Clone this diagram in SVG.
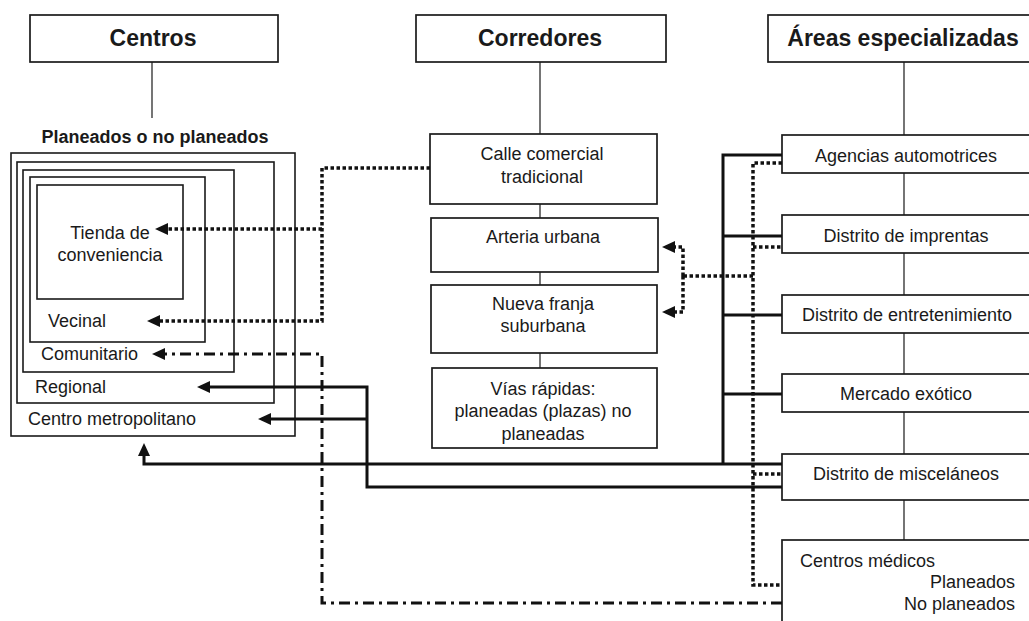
<svg xmlns="http://www.w3.org/2000/svg" width="1029" height="621" viewBox="0 0 1029 621">
  <style>
    .box { fill: #fff; stroke: #1a1a1a; stroke-width: 1.7; }
    .nest { fill: none; stroke: #1a1a1a; stroke-width: 1.6; }
    .head { font-family: "Liberation Sans", Arial, sans-serif; font-weight: bold; font-size: 23px; fill: #1a1a1a; text-anchor: middle; }
    .sub { font-family: "Liberation Sans", Arial, sans-serif; font-weight: bold; font-size: 18px; fill: #1a1a1a; text-anchor: middle; }
    .t { font-family: "Liberation Sans", Arial, sans-serif; font-size: 18px; fill: #1a1a1a; }
    .c { text-anchor: middle; }
    .r { text-anchor: end; }
    .thin { fill: none; stroke: #1a1a1a; stroke-width: 1.2; }
    .solid { fill: none; stroke: #111; stroke-width: 3; }
    .dot { fill: none; stroke: #111; stroke-width: 3.5; stroke-dasharray: 3.5 2.5; }
    .dashdot { fill: none; stroke: #111; stroke-width: 3; stroke-dasharray: 11 5 3 5; }
  </style>
  <defs>
    <marker id="arrow" markerUnits="userSpaceOnUse" markerWidth="13" markerHeight="12" refX="0" refY="6" orient="auto">
      <path d="M0,0 L13,6 L0,12 z" fill="#111"/>
    </marker>
  </defs>
  <rect width="1029" height="621" fill="#fff"/>

  <!-- thin hierarchy connectors -->
  <g id="tree-lines">
    <path class="thin" d="M152 62 V118"/>
    <path class="thin" d="M540 62 V134 M540 204 V218 M540 272 V285 M540 353 V368"/>
    <path class="thin" d="M904 62 V135 M904 173 V215 M904 253 V295 M904 333 V374 M904 412 V454 M904 500 V540"/>
  </g>

  <!-- column headers -->
  <g id="centros">
    <rect class="box" x="30" y="15" width="248" height="47"/>
    <text class="head" x="153" y="46">Centros</text>
  </g>
  <g id="corredores">
    <rect class="box" x="416" y="15" width="250" height="47"/>
    <text class="head" x="540" y="46">Corredores</text>
  </g>
  <g id="areas">
    <rect class="box" x="768" y="15" width="280" height="47"/>
    <text class="head" x="903" y="46">Áreas especializadas</text>
  </g>

  <!-- nested centres -->
  <g id="centros-anidados">
    <text class="sub" x="155" y="143">Planeados o no planeados</text>
    <rect class="nest" x="11" y="153" width="284" height="283"/>
    <rect class="nest" x="17" y="162" width="257" height="241"/>
    <rect class="nest" x="23" y="170" width="211" height="202"/>
    <rect class="nest" x="30" y="177" width="175" height="165"/>
    <rect class="nest" x="37" y="185" width="146" height="114"/>
    <text class="t c" x="110" y="239">Tienda de</text>
    <text class="t c" x="110" y="261">conveniencia</text>
    <text class="t" x="48" y="327">Vecinal</text>
    <text class="t" x="41" y="360">Comunitario</text>
    <text class="t" x="35" y="393">Regional</text>
    <text class="t" x="28" y="425">Centro metropolitano</text>
  </g>

  <!-- corridors -->
  <g id="calle-comercial">
    <rect class="box" x="430" y="134" width="227" height="70"/>
    <text class="t c" x="542" y="160">Calle comercial</text>
    <text class="t c" x="542" y="183">tradicional</text>
  </g>
  <g id="arteria-urbana">
    <rect class="box" x="431" y="218" width="227" height="54"/>
    <text class="t c" x="543" y="243">Arteria urbana</text>
  </g>
  <g id="nueva-franja">
    <rect class="box" x="431" y="285" width="226" height="68"/>
    <text class="t c" x="543" y="310">Nueva franja</text>
    <text class="t c" x="543" y="332">suburbana</text>
  </g>
  <g id="vias-rapidas">
    <rect class="box" x="432" y="368" width="225" height="80"/>
    <text class="t c" x="543" y="395">Vías rápidas:</text>
    <text class="t c" x="543" y="417">planeadas (plazas) no</text>
    <text class="t c" x="543" y="440">planeadas</text>
  </g>

  <!-- specialised areas -->
  <g id="agencias">
    <rect class="box" x="782" y="135" width="270" height="38"/>
    <text class="t c" x="906" y="162">Agencias automotrices</text>
  </g>
  <g id="imprentas">
    <rect class="box" x="782" y="215" width="270" height="38"/>
    <text class="t c" x="906" y="242">Distrito de imprentas</text>
  </g>
  <g id="entretenimiento">
    <rect class="box" x="782" y="295" width="270" height="38"/>
    <text class="t c" x="907" y="321">Distrito de entretenimiento</text>
  </g>
  <g id="mercado">
    <rect class="box" x="782" y="374" width="270" height="38"/>
    <text class="t c" x="906" y="400">Mercado exótico</text>
  </g>
  <g id="miscelaneos">
    <rect class="box" x="782" y="454" width="270" height="46"/>
    <text class="t c" x="906" y="480">Distrito de misceláneos</text>
  </g>
  <g id="centros-medicos">
    <rect class="box" x="782" y="540" width="270" height="100"/>
    <text class="t" x="800" y="567">Centros médicos</text>
    <text class="t r" x="1015" y="588">Planeados</text>
    <text class="t r" x="1015" y="610">No planeados</text>
  </g>

  <!-- relationship connectors -->
  <g id="connectors">
    <!-- dotted: street corridors and service districts -->
    <path class="dot" d="M430 168 H322 V321 H160" marker-end="url(#arrow)"/>
    <path class="dot" d="M322 229 H168" marker-end="url(#arrow)"/>
    <path class="dot" d="M782 163 H753 V585 H782 M753 247 H782 M753 474 H782 M753 276 H683"/>
    <path class="dot" d="M683 276 V247 H675" marker-end="url(#arrow)"/>
    <path class="dot" d="M683 276 V312 H675" marker-end="url(#arrow)"/>
    <!-- dash-dot: medical centres -->
    <path class="dashdot" d="M782 603 H322 V354 H165" marker-end="url(#arrow)"/>
    <!-- solid: specialised districts to larger centres -->
    <path class="solid" d="M782 155 H723 V464 M723 236 H782 M723 315 H782 M723 394 H782"/>
    <path class="solid" d="M782 464 H144 V456" marker-end="url(#arrow)"/>
    <path class="solid" d="M782 487 H367 V387 H210" marker-end="url(#arrow)"/>
    <path class="solid" d="M367 419 H271" marker-end="url(#arrow)"/>
  </g>
</svg>
